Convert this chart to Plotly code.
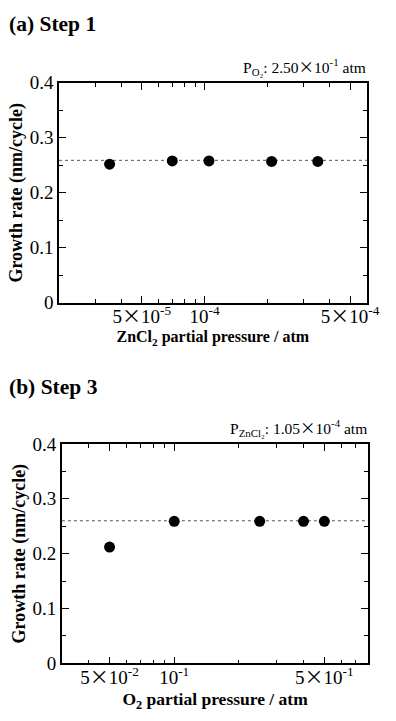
import math
import plotly.graph_objects as go

# ---- data: (a) Step 1 ----
zncl2_pressure = [3.5e-5, 7.0e-5, 1.05e-4, 2.1e-4, 3.5e-4]
growth_rate_a = [0.252, 0.258, 0.258, 0.257, 0.257]
mean_rate_a = 0.259

# ---- data: (b) Step 3 ----
o2_pressure = [5.0e-2, 1.0e-1, 2.5e-1, 4.0e-1, 5.0e-1]
growth_rate_b = [0.212, 0.259, 0.259, 0.259, 0.259]
mean_rate_b = 0.260

X = '<span style="font-family:\'Noto Sans CJK JP\'">×</span>'

# ---- ticks ----
xa_range = [2e-5, 6e-4]
xa_tickvals = [5e-5, 1e-4, 5e-4]
xa_ticktext = ["5" + X + "10<sup>-5</sup>", "10<sup>-4</sup>", "5" + X + "10<sup>-4</sup>"]
xa_minor = [3e-5, 4e-5, 6e-5, 7e-5, 8e-5, 9e-5, 2e-4, 3e-4, 4e-4]

xb_range = [3e-2, 0.8]
xb_tickvals = [5e-2, 1e-1, 5e-1]
xb_ticktext = ["5" + X + "10<sup>-2</sup>", "10<sup>-1</sup>", "5" + X + "10<sup>-1</sup>"]
xb_minor = [4e-2, 6e-2, 7e-2, 8e-2, 9e-2, 2e-1, 3e-1, 4e-1, 6e-1, 7e-1]

y_tickvals = [0, 0.1, 0.2, 0.3, 0.4]
y_ticktext = ["0", "0.1", "0.2", "0.3", "0.4"]
y_minor = [0.05, 0.15, 0.25, 0.35]

W, H = 396, 721
FONT = "Liberation Serif"

def px_dom_x(a, b):
    return [a / W, b / W]

def px_dom_y(top, bottom):
    return [1 - bottom / H, 1 - top / H]

fig = go.Figure()
fig.add_trace(go.Scatter(x=zncl2_pressure, y=growth_rate_a, mode="markers",
                         marker=dict(color="black", size=11),
                         xaxis="x", yaxis="y", showlegend=False))
fig.add_trace(go.Scatter(x=o2_pressure, y=growth_rate_b, mode="markers",
                         marker=dict(color="black", size=11),
                         xaxis="x2", yaxis="y2", showlegend=False))

def xaxis(dom, rng, tv, tt, minor, anchor, title, tsize):
    return dict(domain=dom, type="log", range=[math.log10(rng[0]), math.log10(rng[1])],
                anchor=anchor, tickmode="array", tickvals=tv, ticktext=tt,
                ticks="inside", ticklen=7, tickwidth=1, tickcolor="black",
                ticklabelstandoff=-4,
                minor=dict(tickmode="array", tickvals=minor, ticks="inside",
                           ticklen=4, tickcolor="black", tickwidth=1),
                showline=True, linecolor="black", linewidth=1.5, mirror="ticks",
                showgrid=False, zeroline=False,
                tickfont=dict(family=FONT, size=19, color="black"),
                title=dict(text=title, font=dict(family=FONT, size=tsize, color="black"),
                           standoff=0))

def yaxis(dom, anchor):
    return dict(domain=dom, range=[0, 0.4], anchor=anchor,
                tickmode="array", tickvals=y_tickvals, ticktext=y_ticktext,
                ticks="inside", ticklen=7, tickwidth=1, tickcolor="black",
                minor=dict(tickmode="array", tickvals=y_minor, ticks="inside",
                           ticklen=4, tickcolor="black", tickwidth=1),
                showline=True, linecolor="black", linewidth=1.5, mirror="ticks",
                showgrid=False, zeroline=False,
                tickfont=dict(family=FONT, size=19, color="black"),
                title=dict(text="<b>Growth rate (nm/cycle)</b>",
                           font=dict(family=FONT, size=18, color="black"), standoff=2))

fig.update_layout(
    width=W, height=H, autosize=False,
    margin=dict(l=0, r=0, t=0, b=0),
    paper_bgcolor="white", plot_bgcolor="white",
    xaxis=xaxis(px_dom_x(61, 379), xa_range, xa_tickvals, xa_ticktext, xa_minor, "y",
                "<b>ZnCl<sub>2</sub> partial pressure / atm</b>", 16),
    yaxis=yaxis(px_dom_y(75, 301.5), "x"),
    xaxis2=xaxis(px_dom_x(64, 380.7), xb_range, xb_tickvals, xb_ticktext, xb_minor, "y2",
                 "<b>O<sub>2</sub> partial pressure / atm</b>", 17.5),
    yaxis2=yaxis(px_dom_y(447, 673), "x2"),
)

dash = dict(color="#555555", width=1, dash="3px,3px")
fig.add_shape(type="line", xref="x domain", yref="y", x0=0, x1=1,
              y0=mean_rate_a, y1=mean_rate_a, line=dash, layer="below")
fig.add_shape(type="line", xref="x2 domain", yref="y2", x0=0, x1=1,
              y0=mean_rate_b, y1=mean_rate_b, line=dash, layer="below")

tf = dict(family=FONT, size=21.5, color="black")
fig.add_annotation(text="<b>(a) Step 1</b>", xref="paper", yref="paper",
                   x=7 / W, y=1 - 14 / H, xanchor="left", yanchor="middle",
                   showarrow=False, font=tf)
fig.add_annotation(text="<b>(b) Step 3</b>", xref="paper", yref="paper",
                   x=7 / W, y=1 - 388 / H, xanchor="left", yanchor="middle",
                   showarrow=False, font=tf)

af = dict(family=FONT, size=15.5, color="black")
fig.add_annotation(text="P<sub>O₂</sub>: 2.50" + X + "10<sup>-1</sup> atm", xref="paper", yref="paper",
                   x=380 / W, y=1 - 58 / H, xanchor="right", yanchor="middle",
                   showarrow=False, font=af)
fig.add_annotation(text="P<sub>ZnCl₂</sub>: 1.05" + X + "10<sup>-4</sup> atm", xref="paper", yref="paper",
                   x=382 / W, y=1 - 430 / H, xanchor="right", yanchor="middle",
                   showarrow=False, font=af)

fig.write_html("out.html", config={"displayModeBar": False},
               post_script="document.body.style.margin='0';")
